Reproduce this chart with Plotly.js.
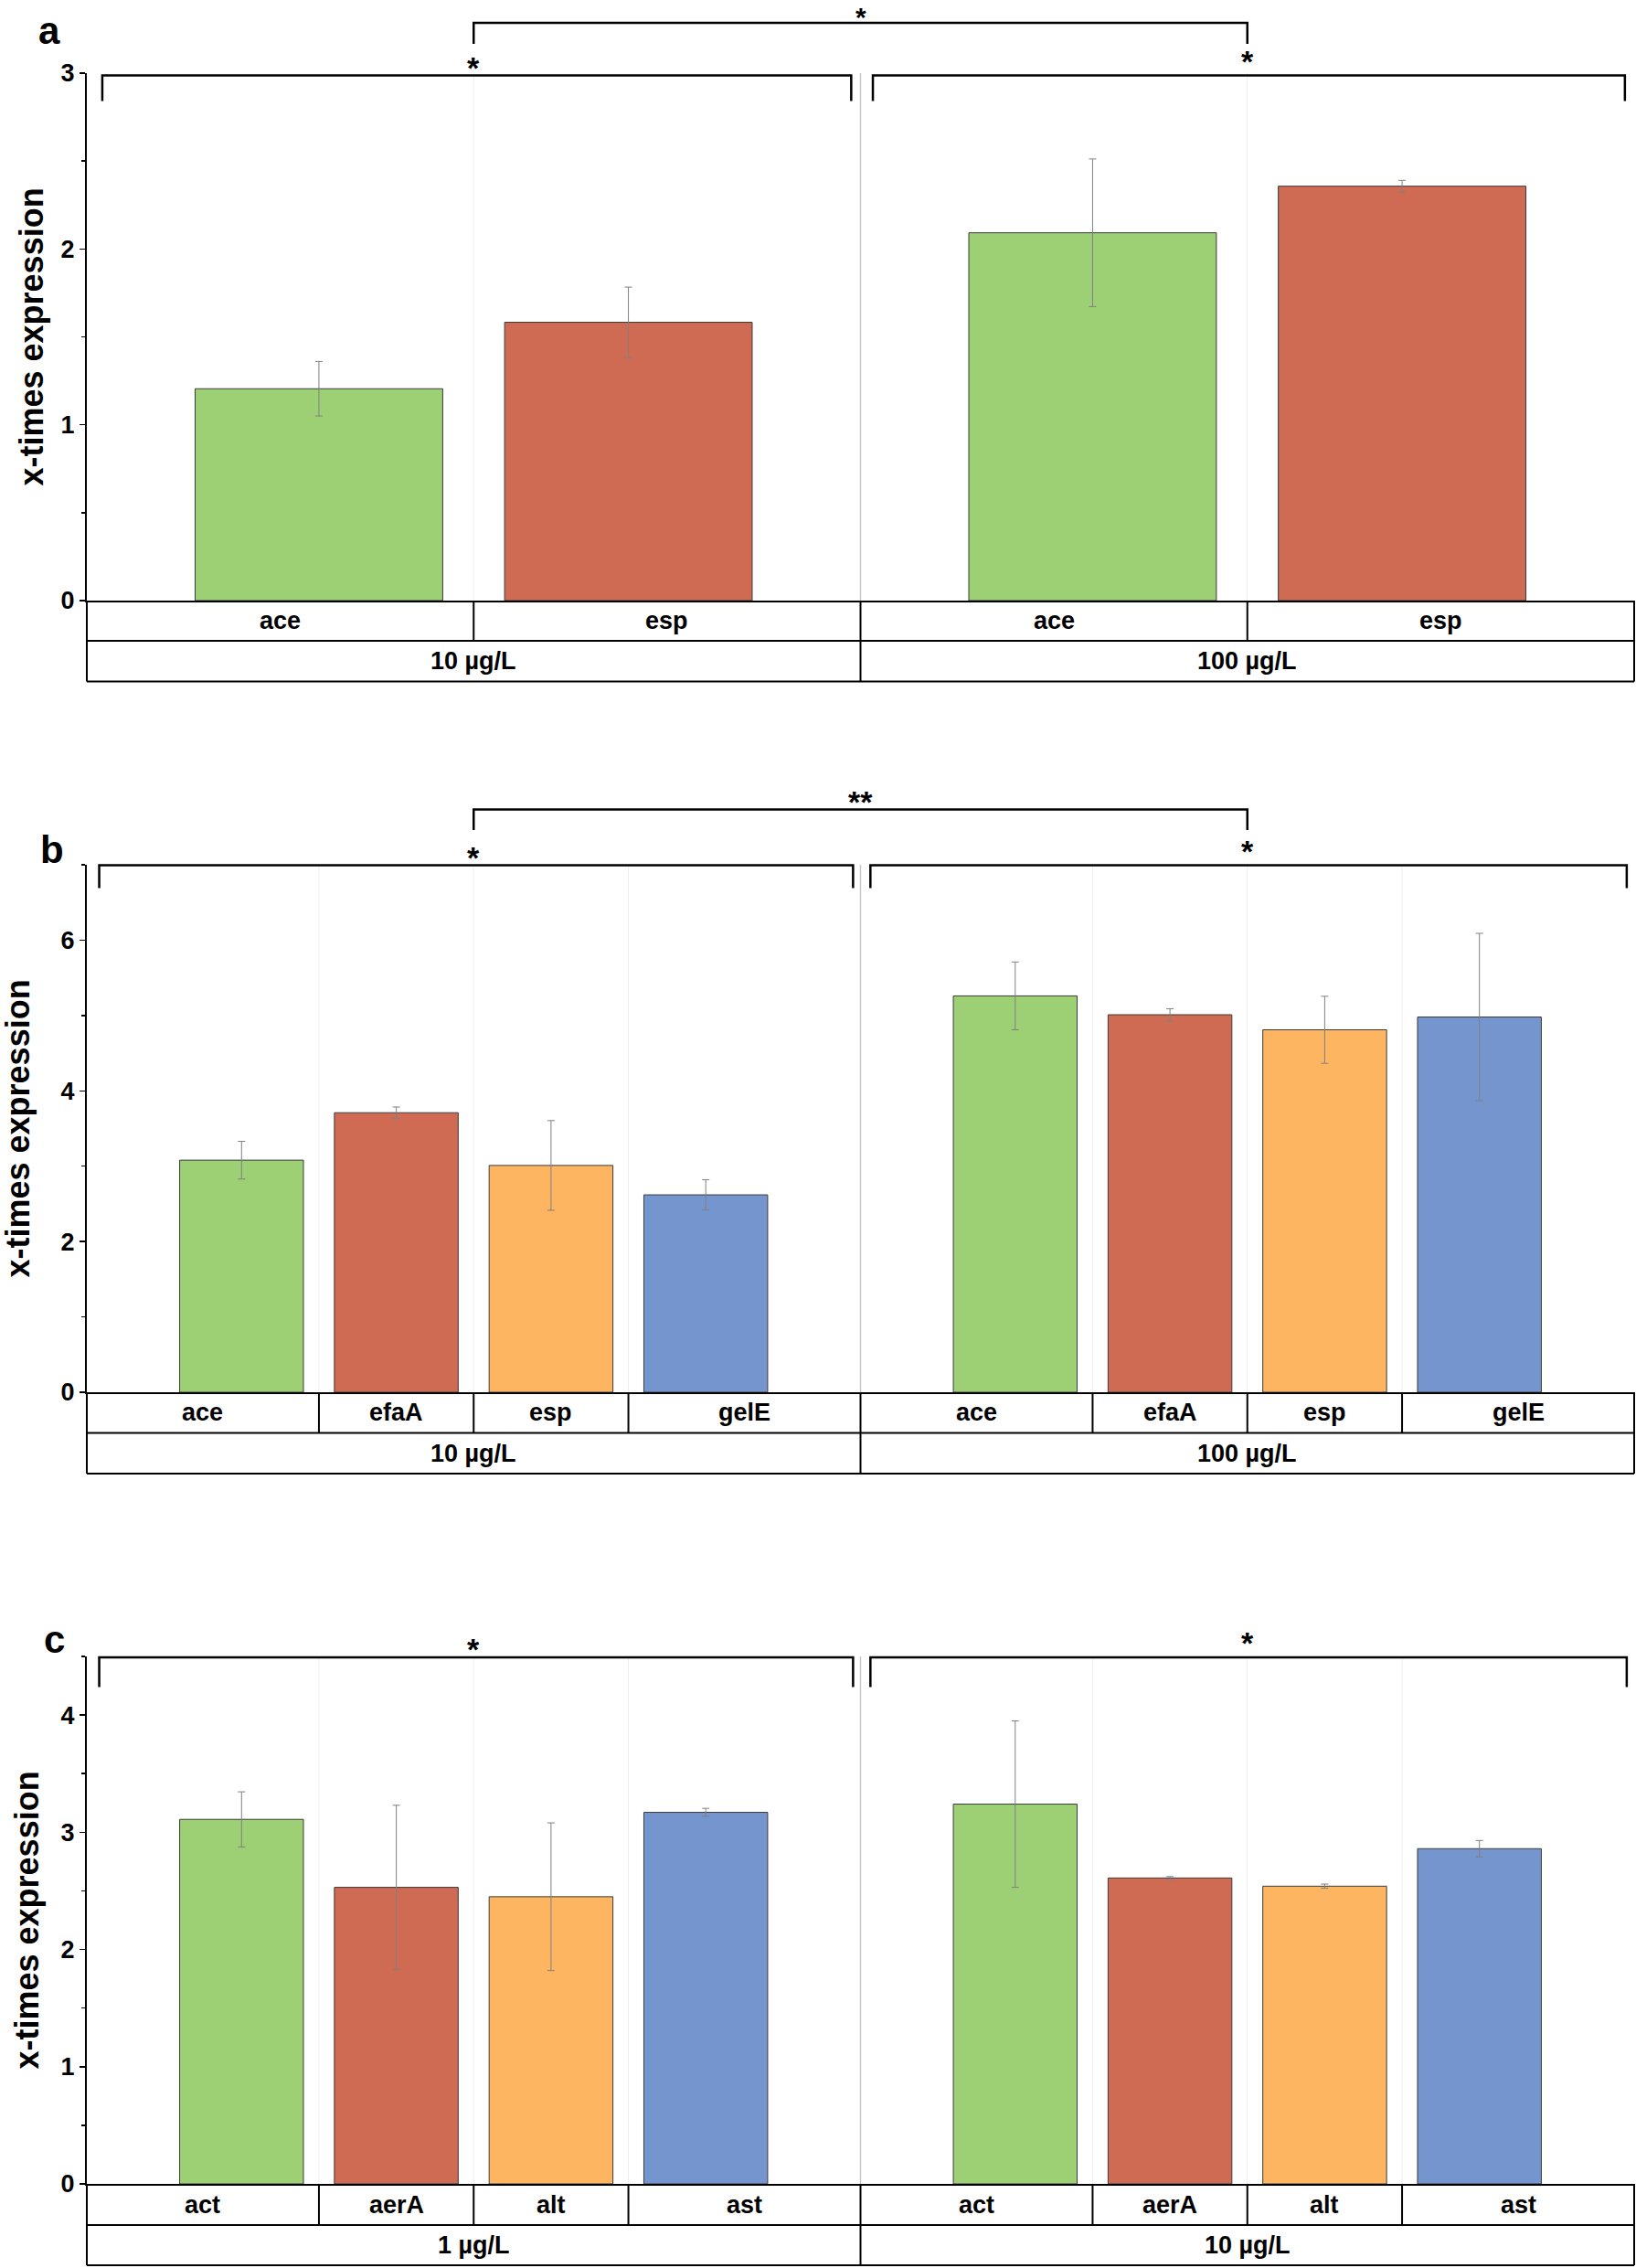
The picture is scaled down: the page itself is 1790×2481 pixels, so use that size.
<!DOCTYPE html>
<html>
<head>
<meta charset="utf-8">
<script src="https://cdn.plot.ly/plotly-3.0.1.min.js"></script>
<style>
  html, body { margin: 0; padding: 0; background: #fff; }
  #chart { width: 1790px; height: 2481px; }
</style>
</head>
<body>
<div id="chart"></div>
<script>
// ---- data ----
const barColors = ["#9dd074", "#cf6b53", "#feb562", "#7495cd"];

// panel a
const genesA = ["ace", "esp"];
const concA = ["10 µg/L", "100 µg/L"];
const a10 = [1.205, 1.583];
const a10Err = [0.155, 0.20];
const a100 = [2.092, 2.357];
const a100Err = [0.42, 0.033];

// panel b
const genesB = ["ace", "efaA", "esp", "gelE"];
const concB = ["10 µg/L", "100 µg/L"];
const b10 = [3.08, 3.71, 3.01, 2.62];
const b10Err = [0.25, 0.075, 0.595, 0.20];
const b100 = [5.26, 5.01, 4.81, 4.98];
const b100Err = [0.45, 0.08, 0.445, 1.11];

// panel c
const genesC = ["act", "aerA", "alt", "ast"];
const concC = ["1 µg/L", "10 µg/L"];
const c1 = [3.11, 2.53, 2.45, 3.17];
const c1Err = [0.235, 0.70, 0.63, 0.034];
const c10 = [3.24, 2.61, 2.54, 2.86];
const c10Err = [0.71, 0.012, 0.018, 0.07];

// significance marks: [left group star, right group star, between-groups star or null]
const sigA = ["*", "*", "*"];
const sigB = ["*", "*", "**"];
const sigC = ["*", "*", null];

// ---- page geometry (pixels) ----
const W = 1790, H = 2481;
const px = v => v / W;
const py = v => 1 - v / H;
const FONT = "Liberation Sans, Arial, sans-serif";
const STAR_SIZE = 34;

const panels = [
  { id: "", letter: "a", genes: genesA, conc: concA, vals: [a10, a100], errs: [a10Err, a100Err], sig: sigA,
    top: 80, bottom: 657, row1: 701, row2: 745.5, ymax: 3, dtick: 1, minor: 0.5, gw: 2.5,
    inset: 0.05, sideY: 82.5, sideDrop: 110.5, topY: 25, topDrop: 48, starL: 71, starR: 64, starTop: null,
    letterX: 54, letterY: 34, titleX: 34 },
  { id: "2", letter: "b", genes: genesB, conc: concB, vals: [b10, b100], errs: [b10Err, b100Err], sig: sigB,
    top: 946, bottom: 1523, row1: 1567.5, row2: 1612, ymax: 7, dtick: 2, minor: 1, gw: 5,
    inset: 0.08, sideY: 946.5, sideDrop: 971.5, topY: 885.5, topDrop: 908, starL: 935, starR: 928, starTop: 874,
    letterX: 57, letterY: 930, titleX: 19 },
  { id: "3", letter: "c", genes: genesC, conc: concC, vals: [c1, c10], errs: [c1Err, c10Err], sig: sigC,
    top: 1812, bottom: 2389, row1: 2434, row2: 2478, ymax: 4.5, dtick: 1, minor: 0.5, gw: 5,
    inset: 0.08, sideY: 1813, sideDrop: 1845.5, topY: null, topDrop: null, starL: 1801, starR: 1794, starTop: null,
    letterX: 59, letterY: 1793, titleX: 29 }
];

const traces = [];
const shapes = [];
const annotations = [];
const layout = {
  width: W, height: H,
  margin: { l: 0, r: 0, t: 0, b: 0 },
  paper_bgcolor: "#fff",
  plot_bgcolor: "rgba(0,0,0,0)",
  showlegend: false,
  bargap: 0,
  font: { family: FONT, color: "#000" }
};

const lineBlack = { color: "#000", width: 2 };

panels.forEach(p => {
  const xa = "x" + p.id, ya = "y" + p.id;
  const n = p.genes.length;
  const xmax = 2 * p.gw;
  const pad = (p.gw - (n - 1)) / 2;

  layout["xaxis" + p.id] = {
    domain: [px(95), px(1788)], range: [0, xmax], anchor: ya,
    showline: true, linewidth: 2, linecolor: "#000",
    ticks: "", showticklabels: false, showgrid: false, zeroline: false, fixedrange: true
  };
  layout["yaxis" + p.id] = {
    domain: [py(p.bottom), py(p.top)], range: [0, p.ymax], anchor: xa,
    tick0: 0, dtick: p.dtick, ticks: "outside", ticklen: 6, tickwidth: 1.5, tickcolor: "#000",
    minor: { dtick: p.minor, ticks: "outside", ticklen: 4, tickwidth: 1.5, tickcolor: "#000", showgrid: false },
    showline: true, linewidth: 2, linecolor: "#000",
    showgrid: false, zeroline: false, fixedrange: true,
    tickfont: { family: FONT, size: 27, weight: "bold", color: "#000" }
  };

  // bars, one trace per concentration group
  p.vals.forEach((vals, g) => {
    const xs = p.genes.map((_, i) => g * p.gw + pad + i);
    traces.push({
      type: "bar", x: xs, y: vals, width: 0.8, xaxis: xa, yaxis: ya,
      marker: { color: barColors.slice(0, n), line: { color: "#3a3a3a", width: 1 } },
      error_y: { type: "data", array: p.errs[g], visible: true, color: "#808080", thickness: 1, width: 4 },
      hoverinfo: "x+y"
    });
  });

  // faint separators inside the plot area
  for (let g = 0; g < 2; g++) {
    for (let i = 1; i < n; i++) {
      const xs = g * p.gw + pad + i - 0.5;
      shapes.push({ type: "line", xref: xa, yref: ya, x0: xs, x1: xs, y0: 0, y1: p.ymax,
        line: { color: "#eeeeee", width: 1 }, layer: "below" });
    }
  }
  shapes.push({ type: "line", xref: xa, yref: ya, x0: p.gw, x1: p.gw, y0: 0, y1: p.ymax,
    line: { color: "#c8c8c8", width: 1.5 }, layer: "below" });

  // category table under the axis
  const xd = xa + " domain";
  shapes.push({ type: "line", xref: xd, yref: "paper", x0: 0, x1: 1, y0: py(p.row1), y1: py(p.row1), line: lineBlack });
  shapes.push({ type: "line", xref: xd, yref: "paper", x0: 0, x1: 1, y0: py(p.row2), y1: py(p.row2), line: lineBlack });
  shapes.push({ type: "line", xref: xd, yref: "paper", x0: 0, x1: 0, y0: py(p.bottom), y1: py(p.row2), line: lineBlack });
  shapes.push({ type: "line", xref: xd, yref: "paper", x0: 1, x1: 1, y0: py(p.bottom), y1: py(p.row2), line: lineBlack });
  shapes.push({ type: "line", xref: xa, yref: "paper", x0: p.gw, x1: p.gw, y0: py(p.bottom), y1: py(p.row2), line: lineBlack });
  for (let g = 0; g < 2; g++) {
    for (let i = 0; i < n; i++) {
      const left = i === 0 ? g * p.gw : g * p.gw + pad + i - 0.5;
      const right = i === n - 1 ? (g + 1) * p.gw : g * p.gw + pad + i + 0.5;
      if (i > 0) {
        shapes.push({ type: "line", xref: xa, yref: "paper", x0: left, x1: left, y0: py(p.bottom), y1: py(p.row1), line: lineBlack });
      }
      annotations.push({ xref: xa, yref: "paper", x: (left + right) / 2, y: py((p.bottom + p.row1) / 2),
        text: p.genes[i], showarrow: false, xanchor: "center", yanchor: "middle",
        font: { family: FONT, size: 27, weight: "bold", color: "#000" } });
    }
    annotations.push({ xref: xa, yref: "paper", x: g * p.gw + p.gw / 2, y: py((p.row1 + p.row2) / 2),
      text: p.conc[g], showarrow: false, xanchor: "center", yanchor: "middle",
      font: { family: FONT, size: 27, weight: "bold", color: "#000" } });
  }

  // significance brackets
  const bracket = (x0, x1, yLine, yDrop) => {
    const a = py(yDrop), b = py(yLine);
    shapes.push({ type: "path", xref: xa, yref: "paper",
      path: `M ${x0},${a} L ${x0},${b} L ${x1},${b} L ${x1},${a}`,
      line: { color: "#000", width: 2.5 } });
  };
  const star = (x, yc, txt, size) => {
    const ann = { xref: xa, yref: "paper", x: x, text: txt, showarrow: false, xanchor: "center",
      font: { family: FONT, size: size, weight: "bold", color: "#000" } };
    if (yc === null) {
      // sits at the very top of the page
      ann.y = 1; ann.yanchor = "top";
    } else {
      ann.y = py(yc + size * 0.1); ann.yanchor = "middle";
    }
    annotations.push(ann);
  };
  bracket(p.inset, p.gw - p.inset * 0.6, p.sideY, p.sideDrop);
  bracket(p.gw + p.inset * 0.8, xmax - p.inset * 0.6, p.sideY, p.sideDrop);
  star(p.gw / 2, p.starL, p.sig[0], STAR_SIZE);
  star(p.gw * 1.5, p.starR, p.sig[1], STAR_SIZE);
  if (p.sig[2]) {
    bracket(p.gw / 2, p.gw * 1.5, p.topY, p.topDrop);
    star(p.gw, p.starTop, p.sig[2], p.starTop === null ? 30 : STAR_SIZE);
  }

  // panel letter and y title
  annotations.push({ xref: "paper", yref: "paper", x: px(p.letterX), y: py(p.letterY), text: p.letter,
    showarrow: false, xanchor: "center", yanchor: "middle",
    font: { family: FONT, size: 42, weight: "bold", color: "#000" } });
  annotations.push({ xref: "paper", yref: "paper", x: px(p.titleX), y: py((p.top + p.bottom) / 2),
    text: "x-times expression", textangle: -90, showarrow: false, xanchor: "center", yanchor: "middle",
    font: { family: FONT, size: 36, weight: "bold", color: "#000" } });
});

layout.shapes = shapes;
layout.annotations = annotations;

Plotly.newPlot("chart", traces, layout, { staticPlot: true, displayModeBar: false });
</script>
</body>
</html>
